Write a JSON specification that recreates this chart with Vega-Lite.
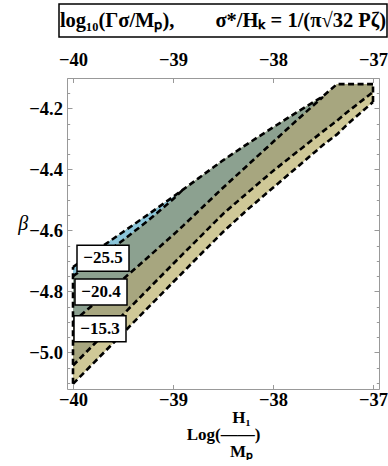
{
 "$schema": "https://vega.github.io/schema/vega-lite/v6.json",
 "padding": {"left": 17, "top": 1, "right": 0, "bottom": 0},
 "spacing": 9,
 "config": {"font": "Liberation Serif", "view": {"stroke": null}},
 "datasets": {
  "bands": [
   {"x": -40, "T": -4.72, "B": -4.75, "C": -4.90, "D": -5.043, "E": -5.103},
   {"x": -39.75, "T": -4.662, "B": -4.692, "C": -4.83, "D": -4.96, "E": -5.02},
   {"x": -39.5, "T": -4.605, "B": -4.632, "C": -4.76, "D": -4.876, "E": -4.937},
   {"x": -39.25, "T": -4.548, "B": -4.568, "C": -4.688, "D": -4.793, "E": -4.853},
   {"x": -39, "T": -4.49, "B": -4.498, "C": -4.615, "D": -4.71, "E": -4.77},
   {"x": -38.9, "T": -4.466, "B": -4.466, "C": -4.585, "D": -4.677, "E": -4.737},
   {"x": -38.75, "T": -4.43, "B": null, "C": -4.538, "D": -4.628, "E": -4.687},
   {"x": -38.5, "T": -4.37, "B": null, "C": -4.46, "D": -4.546, "E": -4.605},
   {"x": -38.25, "T": -4.315, "B": null, "C": -4.385, "D": -4.475, "E": -4.53},
   {"x": -38, "T": -4.262, "B": null, "C": -4.31, "D": -4.405, "E": -4.46},
   {"x": -37.75, "T": -4.21, "B": null, "C": -4.235, "D": -4.34, "E": -4.39},
   {"x": -37.5, "T": -4.16, "B": null, "C": -4.162, "D": -4.275, "E": -4.32},
   {"x": -37.36, "T": -4.12, "B": null, "C": null, "D": -4.24, "E": -4.285},
   {"x": -37.25, "T": -4.12, "B": null, "C": null, "D": -4.21, "E": -4.25},
   {"x": -37, "T": -4.12, "B": null, "C": null, "D": -4.146, "E": -4.179}
  ],
  "labels": [
   {"label": "−25.5", "x": -39.70, "y": -4.691},
   {"label": "−20.4", "x": -39.72, "y": -4.802},
   {"label": "−15.3", "x": -39.73, "y": -4.922}
  ]
 },
 "vconcat": [
  {
   "width": 312,
   "height": 33,
   "data": {"values": [{"t": "log₁₀(Γσ/Mₚ),\u2003\u2003σ*/Hₖ = 1/(π√32 Pζ)"}]},
   "layer": [
    {
     "mark": {"type": "point", "shape": "M-1,-0.1006L1,-0.1006L1,0.1006L-1,0.1006Z", "size": 107584, "filled": false, "fill": "white", "stroke": "black", "strokeWidth": 1.5, "opacity": 1},
     "encoding": {}
    },
    {
     "mark": {"type": "text", "fontSize": 20.5, "fontWeight": "bold", "font": "Liberation Serif", "color": "black"},
     "encoding": {"text": {"field": "t", "type": "nominal"}}
    }
   ]
  },
  {
   "width": 312,
   "height": 311,
   "view": {"stroke": "#999999", "strokeWidth": 1},
   "data": {"name": "bands"},
   "resolve": {"axis": {"x": "independent", "y": "independent"}},
   "layer": [
    {
     "mark": {"type": "area", "color": "#cfc897", "opacity": 1},
     "encoding": {
      "x": {"field": "x", "type": "quantitative",
            "scale": {"domain": [-40.06, -36.94], "nice": false, "zero": false},
            "axis": {"orient": "bottom", "values": [-40, -39, -38, -37], "labelExpr": "'−' + format(-datum.value, 'd')",
                     "title": ["⠀⠀⠀H₁", "Log(——)", "⠀⠀⠀Mₚ"],
                     "titleFont": "Liberation Serif", "titleFontSize": 17, "titleFontWeight": "bold", "titleColor": "black", "titleLineHeight": 17, "titlePadding": 0,
                     "labelFont": "Liberation Serif", "labelFontSize": 18.5, "labelFontWeight": "bold", "labelColor": "black", "labelPadding": 6,
                     "tickColor": "#999999", "tickSize": -4.5, "tickWidth": 1, "domain": false, "grid": false}},
      "y": {"field": "E", "type": "quantitative",
            "scale": {"domain": [-5.12, -4.10], "nice": false, "zero": false},
            "axis": {"orient": "left", "values": [-5.0, -4.8, -4.6, -4.4, -4.2], "labelExpr": "'−' + format(-datum.value, '.1f')",
                     "title": "β", "titleAngle": 0, "titleFontStyle": "italic", "titleFontWeight": "normal", "titleFontSize": 20, "titleColor": "black", "titleFont": "Liberation Serif", "titlePadding": 6,
                     "labelFont": "Liberation Serif", "labelFontSize": 18.5, "labelFontWeight": "bold", "labelColor": "black", "labelPadding": 9.5,
                     "tickColor": "#999999", "tickSize": -5, "tickWidth": 1, "domain": false, "grid": false}},
      "y2": {"field": "T"}
     }
    },
    {
     "mark": {"type": "area", "color": "#a7a67f", "opacity": 1},
     "encoding": {
      "x": {"field": "x", "type": "quantitative",
            "axis": {"orient": "top", "values": [-40, -39, -38, -37], "labelExpr": "'−' + format(-datum.value, 'd')", "title": null,
                     "labelFont": "Liberation Serif", "labelFontSize": 18.5, "labelFontWeight": "bold", "labelColor": "black", "labelPadding": 13.5,
                     "tickColor": "#999999", "tickSize": -4.5, "tickWidth": 1, "domain": false, "grid": false}},
      "y": {"field": "D", "type": "quantitative",
            "axis": {"orient": "left", "values": [-5.1, -5.05, -4.95, -4.9, -4.85, -4.75, -4.7, -4.65, -4.55, -4.5, -4.45, -4.35, -4.3, -4.25, -4.15, -4.1], "labels": false, "title": null,
                     "tickColor": "#999999", "tickSize": -2.7, "tickWidth": 1, "domain": false, "grid": false}},
      "y2": {"field": "T"}
     }
    },
    {
     "mark": {"type": "area", "color": "#8ca190", "opacity": 1},
     "encoding": {
      "x": {"field": "x", "type": "quantitative", "axis": null},
      "y": {"field": "C", "type": "quantitative",
            "axis": {"orient": "right", "values": [-5.0, -4.8, -4.6, -4.4, -4.2], "labels": false, "title": null,
                     "tickColor": "#999999", "tickSize": -5, "tickWidth": 1, "domain": false, "grid": false}},
      "y2": {"field": "T"}
     }
    },
    {
     "mark": {"type": "area", "color": "#8cc6da", "opacity": 1},
     "encoding": {
      "x": {"field": "x", "type": "quantitative", "axis": null},
      "y": {"field": "B", "type": "quantitative",
            "axis": {"orient": "right", "values": [-5.1, -5.05, -4.95, -4.9, -4.85, -4.75, -4.7, -4.65, -4.55, -4.5, -4.45, -4.35, -4.3, -4.25, -4.15, -4.1], "labels": false, "title": null,
                     "tickColor": "#999999", "tickSize": -2.7, "tickWidth": 1, "domain": false, "grid": false}},
      "y2": {"field": "T"}
     }
    },
    {
     "transform": [{"fold": ["T", "B", "C", "D", "E"], "as": ["line", "val"]}],
     "mark": {"type": "line", "color": "black", "strokeWidth": 2.6, "strokeDash": [6, 3.5]},
     "encoding": {
      "x": {"field": "x", "type": "quantitative", "axis": null},
      "y": {"field": "val", "type": "quantitative", "axis": null},
      "detail": {"field": "line", "type": "nominal"}
     }
    },
    {
     "transform": [{"filter": "datum.x == -40 || datum.x == -37"}],
     "mark": {"type": "rule", "color": "black", "strokeWidth": 2.6, "strokeDash": [6, 3.5]},
     "encoding": {
      "x": {"field": "x", "type": "quantitative", "axis": null},
      "y": {"field": "E", "type": "quantitative", "axis": null},
      "y2": {"field": "T"}
     }
    },
    {
     "data": {"name": "labels"},
     "mark": {"type": "point", "shape": "M-1,-0.5L1,-0.5L1,0.5L-1,0.5Z", "size": 2704, "filled": true, "fill": "white", "stroke": "black", "strokeWidth": 1.5, "opacity": 1},
     "encoding": {
      "x": {"field": "x", "type": "quantitative", "axis": null},
      "y": {"field": "y", "type": "quantitative", "axis": null}
     }
    },
    {
     "data": {"name": "labels"},
     "mark": {"type": "text", "font": "Liberation Serif", "fontSize": 17, "fontWeight": "bold", "color": "black"},
     "encoding": {
      "x": {"field": "x", "type": "quantitative", "axis": null},
      "y": {"field": "y", "type": "quantitative", "axis": null},
      "text": {"field": "label", "type": "nominal"}
     }
    }
   ]
  }
 ]
}
